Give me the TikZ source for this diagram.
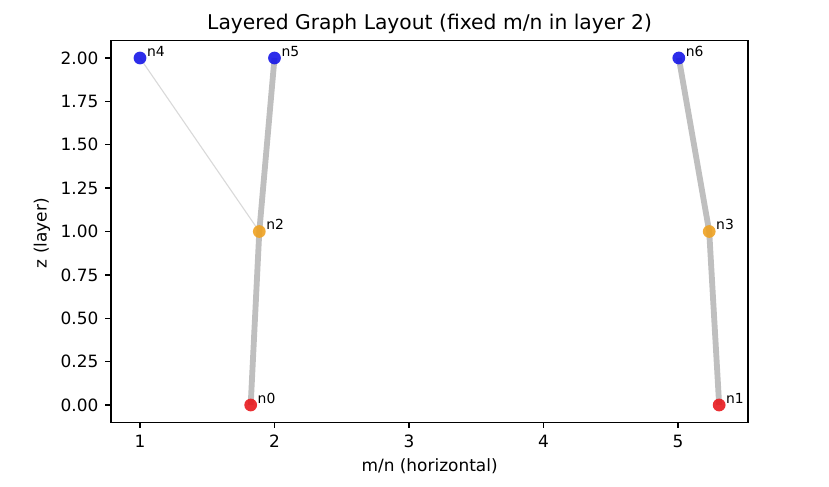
\documentclass[tikz,border=0pt]{standalone}
\usepackage{fontspec}
\setmainfont{DejaVu Sans}
\usetikzlibrary{backgrounds}
\definecolor{layerred}{RGB}{232,26,30}
\definecolor{layerorange}{RGB}{238,162,34}
\definecolor{layerblue}{RGB}{22,22,232}

\begin{document}
\begin{tikzpicture}[x=96.84pt,y=124.92pt,
    vert/.style={circle,inner sep=0pt,minimum size=9.2pt,fill opacity=0.9},
    lbl/.style={anchor=base west,inner sep=0pt,font=\fontsize{10}{12}\selectfont},
    tree/.style={line width=4.2pt,color=black!25},
    cross/.style={line width=0.8pt,color=black!15},
    ticklbl/.style={inner sep=0pt,font=\fontsize{12.2}{14}\selectfont}]
      \useasboundingbox (-0.0409,-0.4669) rectangle (6.1227,2.3343) ;
      % frame and ticks
      \draw[line width=1pt] (0.7847,-0.1) rectangle (5.5213,2.1) ;
      \foreach \x in {1,...,5}
        \draw[line width=1pt] (\x,-0.1) -- ++(0,-4.3pt) %
        node[ticklbl,anchor=north,yshift=-4.3pt]{\x} ;
      \foreach \y/\t in {0/0.00,0.25/0.25,0.5/0.50,0.75/0.75,1/1.00,%
        1.25/1.25,1.5/1.50,1.75/1.75,2/2.00}
        \draw[line width=1pt] (0.7847,\y) -- ++(-4.3pt,0) %
        node[ticklbl,anchor=east,xshift=-4.3pt]{\t} ;
      \node[font=\fontsize{14.6}{17}\selectfont,anchor=base,inner sep=0pt] %
      (title) at (3.153,2.1) [yshift=7.9pt] {Layered Graph Layout (fixed m/n in layer 2)} ;
      \node[ticklbl] (xlabel) at (3.153,-0.35) {m/n (horizontal)} ;
      \node[ticklbl,rotate=90] (ylabel) at (0.271,0.99) {z (layer)} ;
      % vertices
      \node[vert,fill=layerred] (n0) at (1.823,0) {} ;
      \node[vert,fill=layerred] (n1) at (5.306,0) {} ;
      \node[vert,fill=layerorange] (n2) at (1.887,1) {} ;
      \node[vert,fill=layerorange] (n3) at (5.232,1) {} ;
      \node[vert,fill=layerblue] (n4) at (1,2) {} ;
      \node[vert,fill=layerblue] (n5) at (2,2) {} ;
      \node[vert,fill=layerblue] (n6) at (5.006,2) {} ;
      \foreach \v in {n0,n1,n2,n3,n4,n5,n6}
        \path (\v.center) ++(0.05,0.01) node[lbl]{\v} ;
      % edges
      \begin{pgfonlayer}{background}
        \draw[cross] (n4.center) -- (n2.center) ;
        \draw[tree] (n0.center) -- (n2.center) -- (n5.center) ;
        \draw[tree] (n1.center) -- (n3.center) -- (n6.center) ;
      \end{pgfonlayer}
    \end{tikzpicture}
\end{document}
